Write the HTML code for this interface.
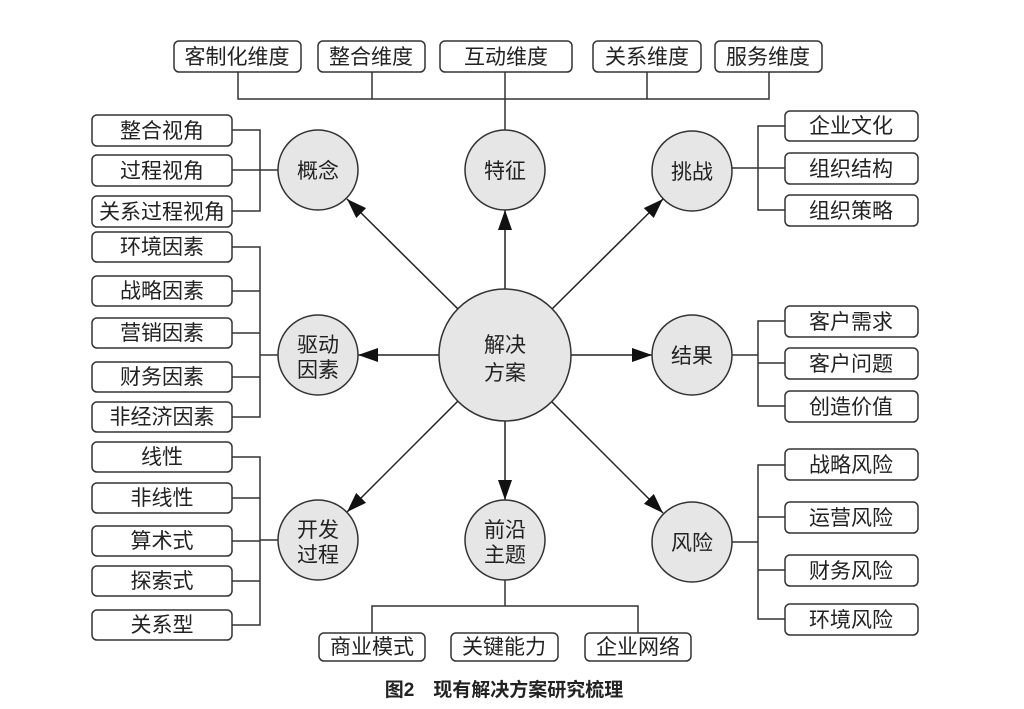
<!DOCTYPE html>
<html><head><meta charset="utf-8"><style>
body{margin:0;background:#fff;}
svg text{font-family:"Liberation Sans","Noto Sans CJK SC",sans-serif;fill:#222;}
</style></head><body>
<svg width="1024" height="704" viewBox="0 0 1024 704" xmlns="http://www.w3.org/2000/svg">
<defs>
<marker id="a" markerUnits="userSpaceOnUse" markerWidth="22" markerHeight="16" refX="20" refY="7" orient="auto">
<path d="M0,0 L20,7 L0,14 Z" fill="#111"/>
</marker>
</defs>
<g stroke="#333" stroke-width="1.5" fill="none">
<!-- top -->
<path d="M238,72V99H769V72 M372,72V99 M505,72V131 M647,72V99"/>
<!-- left brackets -->
<path d="M232,130H260V211H232 M232,170H278"/>
<path d="M232,247H260V417H232 M232,291H260 M232,333H260 M232,377H260 M260,355H278"/>
<path d="M232,457H260V625H232 M232,498H260 M232,541H260 M232,581H260 M260,540H278"/>
<!-- right brackets -->
<path d="M785,126H758V210H785 M785,168H732"/>
<path d="M785,321H758V406H785 M785,363H758 M758,355H732"/>
<path d="M785,465H758V619H785 M785,517H758 M785,570H758 M758,542H732"/>
<!-- bottom -->
<path d="M505,580V606 M372,633V606H638V633"/>
</g>
<g stroke="#222" stroke-width="1.5" marker-end="url(#a)">
<line x1="458" y1="309" x2="347" y2="199"/>
<line x1="552" y1="309" x2="663" y2="199"/>
<line x1="458" y1="401" x2="347" y2="512"/>
<line x1="552" y1="402" x2="663" y2="513"/>
<line x1="505" y1="289" x2="505" y2="210"/>
<line x1="505" y1="421" x2="505" y2="500"/>
<line x1="439" y1="355" x2="358" y2="355"/>
<line x1="571" y1="355" x2="652" y2="355"/>
</g>
<g fill="#e6e6e6" stroke="#333" stroke-width="1.5">
<circle cx="505" cy="355" r="66"/>
<circle cx="318" cy="170" r="40"/><circle cx="505" cy="170" r="40"/><circle cx="692" cy="171" r="40"/>
<circle cx="318" cy="355" r="40"/><circle cx="692" cy="355" r="40"/>
<circle cx="318" cy="540" r="40"/><circle cx="505" cy="540" r="40"/><circle cx="692" cy="542" r="40"/>
</g>
<g fill="#fff" stroke="#333" stroke-width="1.5">
<rect x="174" y="41" width="127" height="31" rx="5"/>
<rect x="318" y="41" width="107" height="31" rx="5"/>
<rect x="440" y="41" width="132" height="31" rx="5"/>
<rect x="593" y="41" width="108" height="31" rx="5"/>
<rect x="715" y="41" width="107" height="31" rx="5"/>
<rect x="92" y="115" width="140" height="31" rx="5"/>
<rect x="92" y="155" width="140" height="31" rx="5"/>
<rect x="92" y="196" width="140" height="31" rx="5"/>
<rect x="92" y="232" width="140" height="30" rx="5"/>
<rect x="92" y="276" width="140" height="30" rx="5"/>
<rect x="92" y="318" width="140" height="30" rx="5"/>
<rect x="92" y="362" width="140" height="30" rx="5"/>
<rect x="92" y="402" width="140" height="30" rx="5"/>
<rect x="92" y="442" width="140" height="30" rx="5"/>
<rect x="92" y="483" width="140" height="30" rx="5"/>
<rect x="92" y="526" width="140" height="30" rx="5"/>
<rect x="92" y="566" width="140" height="30" rx="5"/>
<rect x="92" y="610" width="140" height="30" rx="5"/>
<rect x="785" y="111" width="133" height="30" rx="5"/>
<rect x="785" y="153" width="133" height="31" rx="5"/>
<rect x="785" y="195" width="133" height="31" rx="5"/>
<rect x="785" y="306" width="133" height="31" rx="5"/>
<rect x="785" y="348" width="133" height="31" rx="5"/>
<rect x="785" y="391" width="133" height="31" rx="5"/>
<rect x="785" y="449" width="133" height="31" rx="5"/>
<rect x="785" y="502" width="133" height="31" rx="5"/>
<rect x="785" y="555" width="133" height="31" rx="5"/>
<rect x="785" y="604" width="133" height="31" rx="5"/>
<rect x="319" y="633" width="106" height="28" rx="5"/>
<rect x="451" y="633" width="107" height="28" rx="5"/>
<rect x="585" y="633" width="106" height="28" rx="5"/>
</g>
<g font-size="21" text-anchor="middle">
<text x="237" y="64">客制化维度</text><text x="371" y="64">整合维度</text><text x="506" y="64">互动维度</text><text x="647" y="64">关系维度</text><text x="768" y="64">服务维度</text>
<text x="162" y="138">整合视角</text><text x="162" y="178">过程视角</text><text x="162" y="219">关系过程视角</text>
<text x="162" y="254">环境因素</text><text x="162" y="298">战略因素</text><text x="162" y="340">营销因素</text><text x="162" y="384">财务因素</text><text x="162" y="424">非经济因素</text>
<text x="162" y="464">线性</text><text x="162" y="505">非线性</text><text x="162" y="548">算术式</text><text x="162" y="588">探索式</text><text x="162" y="632">关系型</text>
<text x="851" y="133">企业文化</text><text x="851" y="176">组织结构</text><text x="851" y="218">组织策略</text>
<text x="851" y="329">客户需求</text><text x="851" y="371">客户问题</text><text x="851" y="414">创造价值</text>
<text x="851" y="472">战略风险</text><text x="851" y="525">运营风险</text><text x="851" y="578">财务风险</text><text x="851" y="627">环境风险</text>
<text x="372" y="654">商业模式</text><text x="504" y="654">关键能力</text><text x="638" y="654">企业网络</text>
<text x="318" y="178">概念</text><text x="505" y="178">特征</text><text x="692" y="179">挑战</text><text x="692" y="363">结果</text><text x="692" y="550">风险</text>
<text x="318" y="352">驱动</text><text x="318" y="377">因素</text>
<text x="318" y="537">开发</text><text x="318" y="562">过程</text>
<text x="505" y="537">前沿</text><text x="505" y="562">主题</text>
<text x="505" y="352">解决</text><text x="505" y="380">方案</text>
<text x="504" y="696" font-size="19" font-weight="bold">图2　现有解决方案研究梳理</text>
</g>
</svg>
</body></html>
